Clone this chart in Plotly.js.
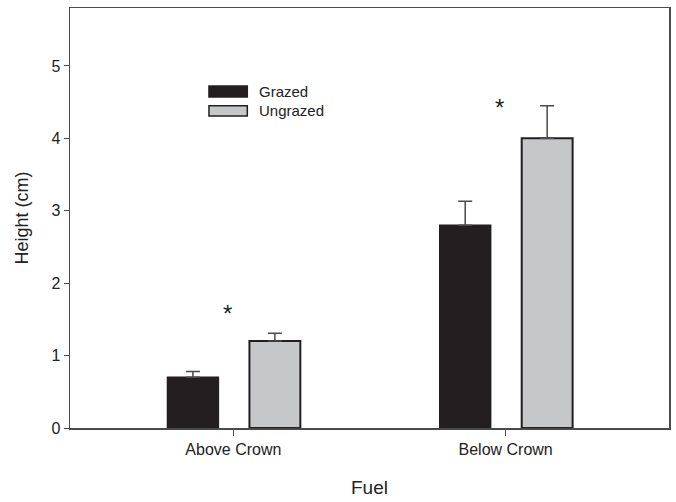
<!DOCTYPE html>
<html>
<head>
<meta charset="utf-8">
<script src="https://cdn.plot.ly/plotly-3.0.1.min.js"></script>
<style>html,body{margin:0;padding:0;background:#fff;}#chart{width:676px;height:502px;}</style>
</head>
<body>
<div id="chart"></div>
<script>
const categories = ["Above Crown", "Below Crown"];
const grazed = [0.70, 2.80];
const grazedErr = [0.08, 0.33];
const ungrazed = [1.20, 4.00];
const ungrazedErr = [0.11, 0.45];
const sigMarks = ["*", "*"];
const sigHeights = [1.58, 4.43];
const yTicks = [0, 1, 2, 3, 4, 5];

const FONT = "Liberation Sans, Arial, sans-serif";
const DARK = "#231f20";
const LIGHT = "#c6c7c9";
const BAR_W = 0.187;

const traces = [
  {
    type: "bar", name: "Grazed", x: categories, y: grazed,
    width: BAR_W, offset: -0.242,
    marker: {color: DARK, line: {color: DARK, width: 1.5}},
    error_y: {type: "data", symmetric: false, array: grazedErr, arrayminus: grazed.map(() => 0),
              color: "#4a4a4a", thickness: 1.5, width: 7},
    showlegend: false
  },
  {
    type: "bar", name: "Ungrazed", x: categories, y: ungrazed,
    width: BAR_W, offset: 0.059,
    marker: {color: LIGHT, line: {color: DARK, width: 2}},
    error_y: {type: "data", symmetric: false, array: ungrazedErr, arrayminus: ungrazed.map(() => 0),
              color: "#4a4a4a", thickness: 1.5, width: 7},
    showlegend: false
  }
];

const annotations = categories.map((c, i) => ({
  x: c, y: sigHeights[i], xref: "x", yref: "y", text: sigMarks[i],
  showarrow: false, xshift: -6, yanchor: "middle",
  font: {family: FONT, size: 24, color: DARK}
}));

// legend labels
annotations.push(
  {xref: "paper", yref: "paper", x: 0.313, y: 0.802, text: "Grazed", showarrow: false,
   xanchor: "left", yanchor: "middle", font: {family: FONT, size: 15, color: "#222"}},
  {xref: "paper", yref: "paper", x: 0.313, y: 0.755, text: "Ungrazed", showarrow: false,
   xanchor: "left", yanchor: "middle", font: {family: FONT, size: 15, color: "#222"}}
);

const shapes = [
  {type: "rect", xref: "paper", yref: "paper", x0: 0.232, x1: 0.296, y0: 0.788, y1: 0.814,
   fillcolor: DARK, line: {color: DARK, width: 1.5}},
  {type: "rect", xref: "paper", yref: "paper", x0: 0.232, x1: 0.296, y0: 0.743, y1: 0.767,
   fillcolor: LIGHT, line: {color: DARK, width: 1.5}}
];

const layout = {
  width: 676, height: 502,
  margin: {l: 70, r: 7, t: 8, b: 74},
  paper_bgcolor: "#fff", plot_bgcolor: "#fff",
  barmode: "overlay",
  showlegend: false,
  font: {family: FONT, size: 15, color: "#222"},
  xaxis: {
    type: "category", range: [-0.6, 1.6],
    showline: true, mirror: true, linecolor: "#4a4a4a", linewidth: 1.5,
    ticks: "outside", ticklen: 6, tickwidth: 1, tickcolor: "#4a4a4a",
    showgrid: false, zeroline: false,
    tickfont: {family: FONT, size: 16, color: "#222"},
    title: {text: "Fuel", font: {family: FONT, size: 19, color: "#222"}, standoff: 24}
  },
  yaxis: {
    range: [0, 5.8], tickvals: yTicks, ticktext: yTicks.map(String),
    showline: true, mirror: true, linecolor: "#4a4a4a", linewidth: 1.5,
    ticks: "outside", ticklen: 5, tickwidth: 1, tickcolor: "#4a4a4a",
    showgrid: false, zeroline: false,
    tickfont: {family: FONT, size: 16, color: "#222"},
    title: {text: "Height (cm)", font: {family: FONT, size: 18, color: "#222"}, standoff: 18}
  },
  annotations: annotations,
  shapes: shapes
};

Plotly.newPlot("chart", traces, layout, {displayModeBar: false, staticPlot: true});
</script>
</body>
</html>
